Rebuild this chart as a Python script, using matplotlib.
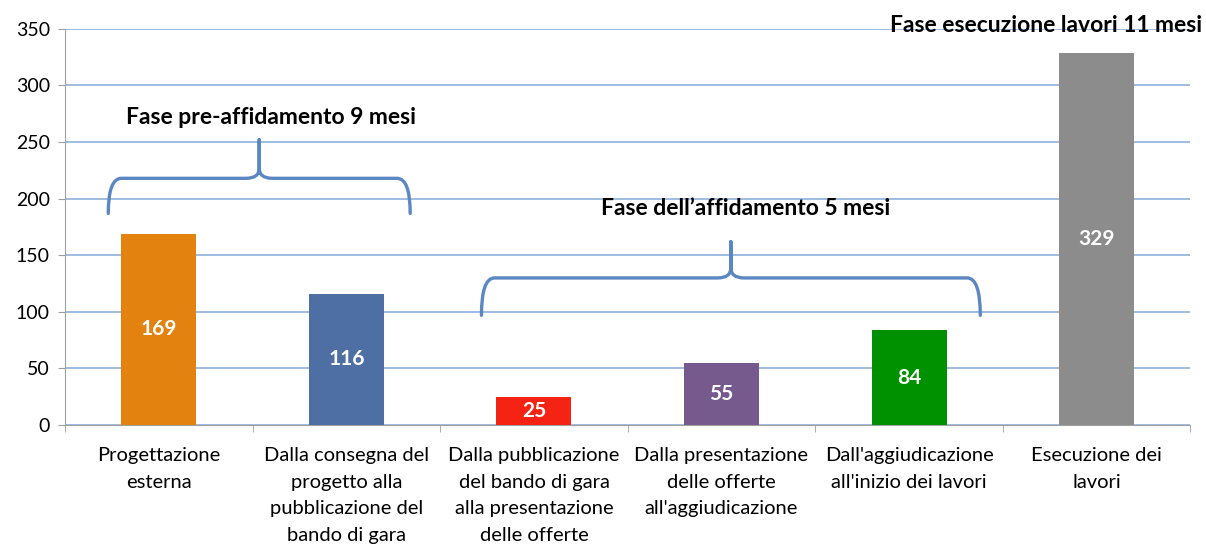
import numpy as np
import matplotlib.pyplot as plt
from matplotlib.path import Path
from matplotlib.patches import PathPatch

plt.rcParams['font.family'] = ['Lato', 'DejaVu Sans']

# Data
categories = [
    "Progettazione\nesterna",
    "Dalla consegna del\nprogetto alla\npubblicazione del\nbando di gara",
    "Dalla pubblicazione\ndel bando di gara\nalla presentazione\ndelle offerte",
    "Dalla presentazione\ndelle offerte\nall'aggiudicazione",
    "Dall'aggiudicazione\nall'inizio dei lavori",
    "Esecuzione dei\nlavori",
]
days = [169, 116, 25, 55, 84, 329]
colors = ["#E3820F", "#4D6FA3", "#F42314", "#765A8E", "#009100", "#8C8C8C"]

phase_labels = ["Fase pre-affidamento 9 mesi",
                "Fase dell\u2019affidamento 5 mesi",
                "Fase esecuzione lavori 11 mesi"]


def brace(ax, x0, x1, y_end, y_mid, y_tip, color="#5B87C2"):
    xc = (x0 + x1) / 2
    dx = 0.07
    dy = 9
    verts = [
        (x0, y_end), (x0, y_mid), (x0 + dx, y_mid),
        (xc - dx, y_mid),
        (xc, y_mid), (xc, y_mid + dy),
        (xc, y_tip),
        (xc, y_mid + dy),
        (xc, y_mid), (xc + dx, y_mid),
        (x1 - dx, y_mid),
        (x1, y_mid), (x1, y_end),
    ]
    codes = [Path.MOVETO, Path.CURVE3, Path.CURVE3,
             Path.LINETO,
             Path.CURVE3, Path.CURVE3,
             Path.LINETO,
             Path.LINETO,
             Path.CURVE3, Path.CURVE3,
             Path.LINETO,
             Path.CURVE3, Path.CURVE3]
    ax.add_patch(PathPatch(Path(verts, codes), facecolor="none",
                           edgecolor=color, lw=2.4, capstyle="round",
                           joinstyle="round", clip_on=False, zorder=4))


fig = plt.figure(figsize=(12.06, 5.45), dpi=100)
ax = fig.add_axes([0.054, 0.22, 0.933, 0.727])

x = np.arange(len(categories))
bars = ax.bar(x, days, width=0.4, color=colors, zorder=3)
for xi, v in zip(x, days):
    ax.text(xi, v / 2, str(v), ha="center", va="center", color="white",
            fontsize=15, fontweight="bold", zorder=5)

ax.set_xlim(-0.5, len(categories) - 0.5)
ax.set_ylim(0, 350)
ax.set_yticks(np.arange(0, 351, 50))
ax.yaxis.grid(True, color="#8EB0DD", lw=1.2, zorder=0)
ax.set_axisbelow(True)

ax.set_xticks(x)
ax.set_xticklabels(categories, fontsize=14.5, linespacing=1.68)
ax.set_xticks(np.arange(-0.5, len(categories), 1), minor=True)
ax.tick_params(axis="x", which="major", length=0, pad=16)
ax.tick_params(axis="x", which="minor", length=5, color="#A0A0A0")
ax.tick_params(axis="y", length=5, color="#A0A0A0", labelsize=14, pad=6)
for t in ax.get_xticklabels():
    t.set_va("top")

for s in ["top", "right"]:
    ax.spines[s].set_visible(False)
ax.spines["left"].set_color("#A0A0A0")
ax.spines["bottom"].set_color("#A0A0A0")

# Phase braces and labels
brace(ax, -0.27, 1.34, 187, 218, 252)
brace(ax, 1.72, 4.38, 97, 130, 162)

ax.text(0.6, 272, phase_labels[0], ha="center", va="center",
        fontsize=16.5, fontweight="bold", zorder=5)
ax.text(3.13, 191, phase_labels[1], ha="center", va="center",
        fontsize=16.5, fontweight="bold", zorder=5)
ax.text(4.73, 353, phase_labels[2], ha="center", va="center",
        fontsize=16.5, fontweight="bold", zorder=5, clip_on=False)

fig.savefig("out.png", dpi=100)
